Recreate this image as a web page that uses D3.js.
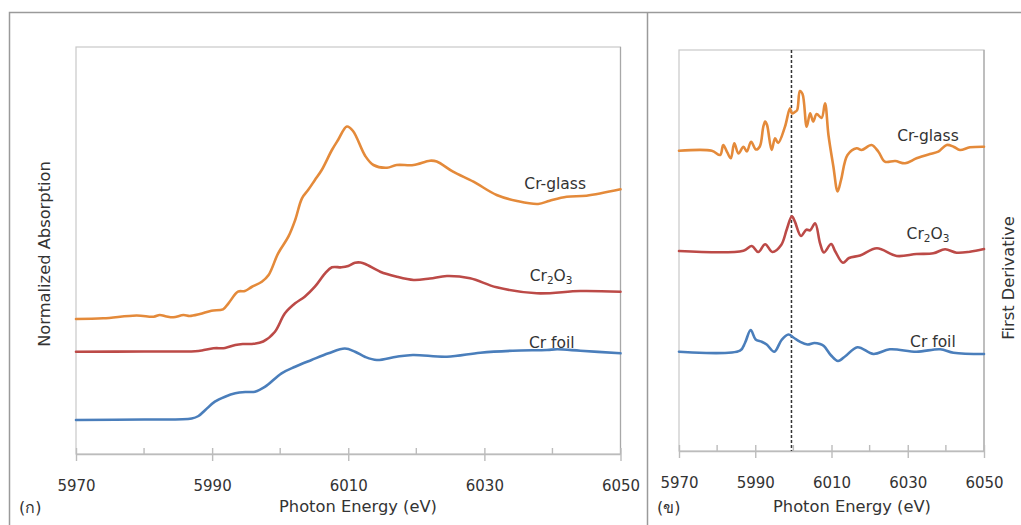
<!DOCTYPE html>
<html>
<head>
<meta charset="utf-8">
<script src="https://cdn.jsdelivr.net/npm/d3@7"></script>
<style>
  html, body { margin: 0; padding: 0; background: #fff; }
  svg { display: block; }
  text { font-family: "DejaVu Sans", sans-serif; fill: #333; }
</style>
</head>
<body>
<svg id="chart" width="1021" height="525"></svg>
<script>
// ---- XANES spectra (normalized absorption, stacked with offsets) ----
const foilE  = [5970, 5980, 5987, 5988, 5989, 5990.4, 5991.9, 5993.4, 5995, 5996.3, 5997.8, 6000.2, 6002.2, 6004.6, 6007.1, 6009.5, 6011, 6012.5, 6014.2, 6017.1, 6019.5, 6024.5, 6029.4, 6034.2, 6039.2, 6040.7, 6044.1, 6050];
const foilMu = [0.34, 0.345, 0.355, 0.38, 0.44, 0.523, 0.573, 0.607, 0.62, 0.623, 0.673, 0.807, 0.873, 0.94, 1.007, 1.055, 1.023, 0.97, 0.94, 0.973, 0.99, 0.973, 1.013, 1.033, 1.04, 1.047, 1.033, 1.007];

const oxideE  = [5970, 5980, 5987.5, 5988.5, 5990.2, 5991.9, 5993.4, 5994.5, 5996.1, 5997.5, 5999.2, 6000.7, 6002.2, 6003.6, 6005.1, 6006.6, 6007.6, 6009, 6010, 6011, 6011.8, 6012.5, 6014.7, 6017, 6019.6, 6022, 6024.5, 6027.9, 6031.8, 6037.7, 6044.1, 6050];
const oxideMu = [1.023, 1.025, 1.028, 1.035, 1.057, 1.06, 1.09, 1.10, 1.102, 1.125, 1.22, 1.407, 1.507, 1.573, 1.673, 1.807, 1.867, 1.867, 1.88, 1.913, 1.915, 1.90, 1.823, 1.775, 1.74, 1.755, 1.78, 1.757, 1.667, 1.607, 1.63, 1.623];

const glassE  = [5970, 5974, 5978.9, 5981.4, 5982.3, 5983.3, 5984.3, 5985.8, 5986.7, 5988.2, 5989.9, 5991.6, 5992.4, 5993.8, 5994.8, 5995.8, 5997.3, 5998.3, 5999.7, 6001.2, 6002.2, 6003.2, 6004.1, 6005.1, 6006.1, 6007.6, 6008.5, 6009.8, 6010.7, 6012.5, 6013.7, 6015.7, 6017.1, 6019.6, 6022, 6023, 6025.4, 6028.4, 6031.8, 6034.8, 6037.9, 6039.6, 6042.1, 6045, 6050];
const glassMu = [1.35, 1.357, 1.385, 1.373, 1.39, 1.375, 1.367, 1.39, 1.38, 1.40, 1.433, 1.447, 1.507, 1.623, 1.63, 1.67, 1.723, 1.79, 2.007, 2.173, 2.34, 2.557, 2.64, 2.74, 2.84, 3.04, 3.14, 3.275, 3.23, 2.98, 2.89, 2.863, 2.89, 2.89, 2.933, 2.925, 2.823, 2.723, 2.59, 2.53, 2.50, 2.533, 2.573, 2.583, 2.647];

// ---- First-derivative spectra (stacked with offsets) ----
const foilDE = [5970, 5986, 5987.3, 5988.8, 5990.1, 5991.7, 5993, 5995, 5996.9, 5998.7, 6000, 6001.7, 6003.7, 6005.5, 6007, 6008, 6009.9, 6011.7, 6013.7, 6016.8, 6021, 6025.3, 6032.3, 6038.5, 6042, 6050];
const foilD  = [0.993, 1.003, 1.08, 1.21, 1.115, 1.093, 1.065, 0.993, 1.11, 1.165, 1.135, 1.093, 1.065, 1.08, 1.07, 1.05, 0.955, 0.90, 0.95, 1.038, 0.97, 1.017, 0.993, 1.017, 0.983, 0.97];

const oxideDE = [5970, 5986.9, 5989.1, 5990.8, 5992.6, 5994.5, 5996.8, 5998.3, 5999.6, 6000.4, 6002, 6003.4, 6004.4, 6005.7, 6007, 6008, 6009.9, 6011, 6013, 6014.6, 6017.5, 6021.9, 6027.1, 6032.3, 6036.7, 6039.8, 6042.8, 6046.3, 6050];
const oxideD  = [2.00, 2.003, 2.05, 1.99, 2.068, 1.99, 2.06, 2.22, 2.347, 2.293, 2.15, 2.213, 2.207, 2.277, 2.077, 1.985, 2.07, 1.995, 1.883, 1.93, 1.955, 2.027, 1.95, 1.97, 1.977, 2.017, 1.983, 1.993, 2.02];

const glassDE = [5970, 5978.6, 5980.8, 5981.6, 5982.7, 5983.6, 5984.5, 5985.6, 5986.9, 5987.8, 5988.9, 5990.2, 5991.2, 5992.1, 5992.6, 5993.1, 5994.3, 5995.2, 5996, 5997.8, 5999.1, 5999.6, 6000.4, 6001, 6001.7, 6002.4, 6003.5, 6004.4, 6005.2, 6006.1, 6007.4, 6008.3, 6009.2, 6010.5, 6011.6, 6012.5, 6014.2, 6016.6, 6017.9, 6020.5, 6022.3, 6024, 6026.7, 6029.3, 6032.3, 6035.8, 6038, 6040.2, 6042, 6043.7, 6046.3, 6050];
const glassD  = [3.003, 3.003, 2.96, 3.06, 2.983, 2.927, 3.077, 2.975, 3.043, 2.995, 3.093, 3.015, 3.045, 3.24, 3.295, 3.26, 3.01, 3.127, 3.08, 3.243, 3.427, 3.377, 3.39, 3.41, 3.60, 3.57, 3.243, 3.377, 3.295, 3.37, 3.33, 3.477, 3.16, 2.843, 2.595, 2.71, 2.96, 3.027, 3.01, 3.06, 2.993, 2.893, 2.90, 2.877, 2.927, 2.97, 2.993, 3.06, 3.043, 3.01, 3.037, 3.043];

// Axis ticks and reference energy
const xTicks = [5970, 5990, 6010, 6030, 6050];
const xMinorTicks = [5980, 6000, 6020, 6040];
const edgeEnergy = 5999.5;

// Series labels: [energy, value] for each panel, in the order of seriesNames
const seriesNames = ["glass", "oxide", "foil"];
const labelsLeft  = [[6040.4, 2.70], [6039.8, 1.78], [6039.9, 1.11]];
const labelsRight = [[6035.3, 3.15], [6035.3, 2.17], [6036.6, 1.09]];

const colors = { glass: "#E48A3A", oxide: "#BC4A47", foil: "#4A7EBB" };

const svg = d3.select("#chart");

// Outer frames
svg.append("path")
  .attr("d", "M9.5,525 L9.5,12.5 L647.5,12.5 L647.5,525 M647.5,12.5 L1021,12.5")
  .attr("fill", "none").attr("stroke", "#9a9a9a").attr("stroke-width", 1.5);

function drawPanel(opts) {
  const { x0, x1, y0, y1, yMax, series, labels, sideLabel, sideX, sideY, titleX, tag, tagX, dashed } = opts;
  const x = d3.scaleLinear().domain([5970, 6050]).range([x0, x1]);
  const y = d3.scaleLinear().domain([0, yMax]).range([y1, y0]);
  const g = svg.append("g");

  // plot area border
  g.append("rect").attr("x", x0).attr("y", y0)
    .attr("width", x1 - x0).attr("height", y1 - y0)
    .attr("fill", "none").attr("stroke", "#c8c8c8").attr("stroke-width", 1.2);
  g.append("line").attr("x1", x1).attr("x2", x1).attr("y1", y0).attr("y2", y1)
    .attr("stroke", "#a8a8a8").attr("stroke-width", 1.2);

  // bottom axis: major ticks cross the axis, minor ticks inside
  const axis = d3.axisBottom(x).tickValues(xTicks).tickFormat(d3.format("d"))
    .tickSizeInner(13).tickSizeOuter(0).tickPadding(12);
  const ax = g.append("g").attr("transform", `translate(0,${y1})`).call(axis);
  ax.select(".domain").attr("stroke", "#bcbcbc").attr("stroke-width", 1.4);
  ax.selectAll(".tick line").attr("stroke", "#bcbcbc").attr("stroke-width", 1.4)
    .attr("y1", -6).attr("y2", 7);
  ax.selectAll(".tick text").attr("font-size", 15).attr("fill", "#333")
    .attr("font-family", "DejaVu Sans, sans-serif").attr("y", 32).attr("dy", "0.35em");
  g.selectAll(".minor").data(xMinorTicks).join("line").attr("class", "minor")
    .attr("x1", d => x(d)).attr("x2", d => x(d)).attr("y1", y1 - 6).attr("y2", y1)
    .attr("stroke", "#bcbcbc").attr("stroke-width", 1.4);

  if (dashed) {
    g.append("line").attr("x1", x(edgeEnergy)).attr("x2", x(edgeEnergy))
      .attr("y1", y0).attr("y2", y1)
      .attr("stroke", "#333").attr("stroke-width", 1.5).attr("stroke-dasharray", "3,2");
  }

  const line = d3.line().x(d => x(d[0])).y(d => y(d[1])).curve(d3.curveCatmullRom.alpha(0.5));
  series.forEach(s => {
    const pts = s.e.map((e, i) => [e, s.v[i]]);
    g.append("path").datum(pts).attr("d", line)
      .attr("fill", "none").attr("stroke", colors[s.name]).attr("stroke-width", 2.6)
      .attr("stroke-linejoin", "round").attr("stroke-linecap", "round");
  });

  // series labels
  seriesNames.forEach((name, i) => {
    const [le, lv] = labels[i];
    const t = g.append("text").attr("x", x(le)).attr("y", y(lv))
      .attr("text-anchor", "middle").attr("dominant-baseline", "central")
      .attr("font-size", 15.5);
    if (name === "glass") t.text("Cr-glass");
    else if (name === "foil") t.text("Cr foil");
    else {
      t.append("tspan").text("Cr");
      t.append("tspan").text("2").attr("font-size", 10.5).attr("dy", 4);
      t.append("tspan").text("O").attr("dy", -4);
      t.append("tspan").text("3").attr("font-size", 10.5).attr("dy", 4);
    }
  });

  // axis title and panel tag
  g.append("text").attr("x", titleX).attr("y", 506)
    .attr("text-anchor", "middle").attr("dominant-baseline", "central")
    .attr("font-size", 16.3).text("Photon Energy (eV)");
  g.append("text").attr("x", tagX).attr("y", 507)
    .attr("dominant-baseline", "central").attr("font-size", 16).text(tag);
  g.append("text")
    .attr("transform", `translate(${sideX},${sideY}) rotate(-90)`)
    .attr("text-anchor", "middle").attr("dominant-baseline", "central")
    .attr("font-size", 16.3).text(sideLabel);
}

drawPanel({
  x0: 76, x1: 620.5, y0: 47, y1: 454, yMax: 4.07,
  series: [
    { name: "glass", e: glassE, v: glassMu },
    { name: "oxide", e: oxideE, v: oxideMu },
    { name: "foil",  e: foilE,  v: foilMu }
  ],
  labels: labelsLeft, sideLabel: "Normalized Absorption", sideX: 44, sideY: 254,
  titleX: 358, tag: "(ก)", tagX: 19, dashed: false
});

drawPanel({
  x0: 679, x1: 984, y0: 50, y1: 451, yMax: 4.01,
  series: [
    { name: "glass", e: glassDE, v: glassD },
    { name: "oxide", e: oxideDE, v: oxideD },
    { name: "foil",  e: foilDE,  v: foilD }
  ],
  labels: labelsRight, sideLabel: "First Derivative", sideX: 1008, sideY: 278,
  titleX: 852, tag: "(ข)", tagX: 657, dashed: true
});
</script>
</body>
</html>
